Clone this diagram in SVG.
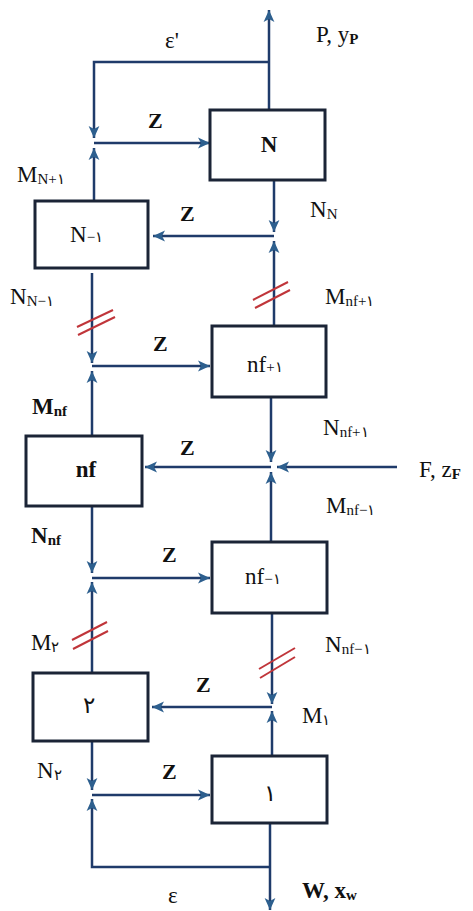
<svg xmlns="http://www.w3.org/2000/svg" width="473" height="911" viewBox="0 0 473 911" font-family="'Liberation Serif', serif">
<defs>
<marker id="ah" markerUnits="userSpaceOnUse" markerWidth="12" markerHeight="12" viewBox="0 0 10 10" refX="10" refY="5" orient="auto">
<path d="M0,0.5 L10,5 L0,9.5 L2.5,5 z" fill="#2d5f8e"/>
</marker>
</defs>
<style>
.box{fill:#fff;stroke:#1b2436;stroke-width:3}
.ar{fill:none;stroke:#1f3b6a;stroke-width:2.5;marker-end:url(#ah)}
.sl{stroke:#c0353a;stroke-width:2}
text{font-family:'Liberation Serif',serif;fill:#111;font-size:23px}
.b{font-weight:bold}
.s{font-size:15px}
.zl{font-weight:bold;font-size:22px}
</style>
<rect width="473" height="911" fill="#fff"/>
<g id="connectors">
<line class="ar" x1="269" y1="110" x2="269" y2="10"/>
<polyline class="ar" points="269,62 94,62 94,138"/>
<line class="ar" x1="94" y1="143" x2="210" y2="143"/>
<line class="ar" x1="94" y1="201" x2="94" y2="148"/>
<line class="ar" x1="274" y1="180" x2="274" y2="232"/>
<line class="ar" x1="274" y1="236" x2="153" y2="236"/>
<line class="ar" x1="274" y1="326" x2="274" y2="241"/>
<line class="ar" x1="92" y1="273" x2="92" y2="363"/>
<line class="ar" x1="92" y1="366" x2="210" y2="366"/>
<line class="ar" x1="92" y1="436" x2="92" y2="371"/>
<line class="ar" x1="271" y1="397" x2="271" y2="462"/>
<line class="ar" x1="271" y1="467" x2="145" y2="467"/>
<line class="ar" x1="397" y1="467" x2="277" y2="467"/>
<line class="ar" x1="271" y1="542" x2="271" y2="472"/>
<line class="ar" x1="92" y1="506" x2="92" y2="573"/>
<line class="ar" x1="92" y1="578" x2="210" y2="578"/>
<line class="ar" x1="92" y1="673" x2="92" y2="582"/>
<line class="ar" x1="272" y1="613" x2="272" y2="704"/>
<line class="ar" x1="272" y1="707" x2="152" y2="707"/>
<line class="ar" x1="272" y1="756" x2="272" y2="711"/>
<line class="ar" x1="92" y1="741" x2="92" y2="790"/>
<line class="ar" x1="92" y1="795" x2="210" y2="795"/>
<polyline class="ar" points="270,867 92,867 92,799"/>
<line class="ar" x1="270" y1="823" x2="270" y2="910"/>
<line class="sl" x1="253" y1="300" x2="288" y2="282"/>
<line class="sl" x1="255" y1="308" x2="290" y2="290"/>
<line class="sl" x1="77" y1="327" x2="113" y2="310"/>
<line class="sl" x1="78" y1="335" x2="115" y2="317"/>
<line class="sl" x1="72" y1="640" x2="107" y2="622"/>
<line class="sl" x1="73" y1="649" x2="108" y2="631"/>
<line class="sl" x1="259" y1="669" x2="295" y2="648"/>
<line class="sl" x1="260" y1="678" x2="295" y2="657"/>
</g>
<g id="node-N"><rect class="box" x="210" y="110" width="115" height="70"/><text class="b" x="269" y="152" text-anchor="middle">N</text></g>
<g id="node-N-1"><rect class="box" x="35" y="201" width="113" height="67"/><text x="70" y="242">N<tspan class="s">−١</tspan></text></g>
<g id="node-nf+1"><rect class="box" x="212" y="326" width="114" height="71"/><text x="247" y="372">nf<tspan class="s">+١</tspan></text></g>
<g id="node-nf"><rect class="box" x="26" y="436" width="116" height="70"/><text class="b" x="86" y="477" text-anchor="middle">nf</text></g>
<g id="node-nf-1"><rect class="box" x="212" y="542" width="115" height="71"/><text x="245" y="584">nf<tspan class="s">−١</tspan></text></g>
<g id="node-2"><rect class="box" x="33" y="673" width="115" height="68"/><text x="89" y="713" text-anchor="middle" font-size="19">٢</text></g>
<g id="node-1"><rect class="box" x="212" y="756" width="115" height="67"/><text x="270" y="801" text-anchor="middle" font-size="19">١</text></g>
<g id="labels">
<text x="165" y="48" font-size="25">ε'</text>
<text x="316" y="42">P, y<tspan class="s b" dy="2">P</tspan></text>
<text class="zl" x="148" y="128">Z</text>
<text class="zl" x="180" y="221">Z</text>
<text class="zl" x="153" y="351">Z</text>
<text class="zl" x="180" y="455">Z</text>
<text class="zl" x="162" y="562">Z</text>
<text class="zl" x="196" y="692">Z</text>
<text class="zl" x="162" y="779">Z</text>
<text x="17" y="182">M<tspan class="s" dy="2">N+١</tspan></text>
<text x="310" y="217">N<tspan class="s" dy="2">N</tspan></text>
<text x="10" y="304">N<tspan class="s" dy="2">N−١</tspan></text>
<text x="325" y="304">M<tspan class="s" dy="2">nf+١</tspan></text>
<text class="b" x="32" y="414">M<tspan class="s" dy="2">nf</tspan></text>
<text x="323" y="435">N<tspan class="s" dy="2">nf+١</tspan></text>
<text x="419" y="477">F, z<tspan class="s b" dy="2">F</tspan></text>
<text x="326" y="513">M<tspan class="s" dy="2">nf−١</tspan></text>
<text class="b" x="31" y="543">N<tspan class="s" dy="2">nf</tspan></text>
<text x="31" y="650">M<tspan class="s" dy="2">٢</tspan></text>
<text x="325" y="652">N<tspan class="s" dy="2">nf−١</tspan></text>
<text x="302" y="723">M<tspan class="s" dy="2">١</tspan></text>
<text x="37" y="778">N<tspan class="s" dy="2">٢</tspan></text>
<text x="168" y="903" font-size="25">ε</text>
<text class="b" x="302" y="898">W, x<tspan class="s" dy="2">w</tspan></text>
</g>
</svg>
